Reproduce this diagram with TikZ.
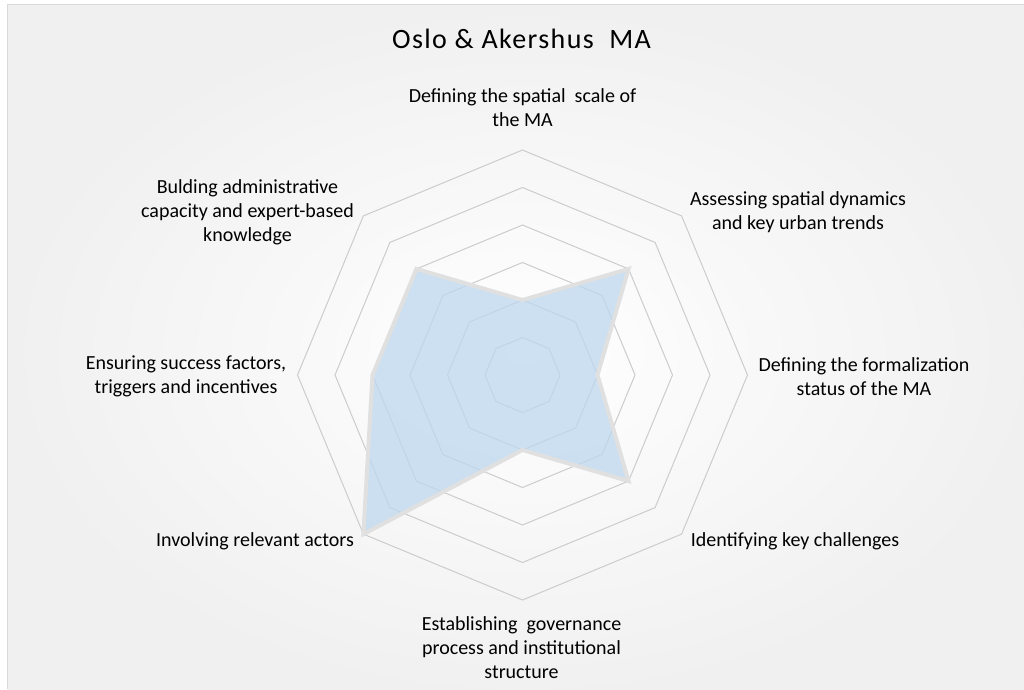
\documentclass[tikz,border=0pt]{standalone}
\usepackage{fontspec}
\setmainfont{Carlito}
\newfontfamily\titlefont[LetterSpace=5]{Carlito}
\definecolor{gridgray}{RGB}{204,204,204}
\definecolor{areablue}{RGB}{189,215,238}
\definecolor{bordergray}{RGB}{224,224,224}
\definecolor{framegray}{RGB}{217,217,217}
\definecolor{edgegray}{RGB}{240,240,240}

\begin{document}
\begin{tikzpicture}[x=0.75pt,y=-0.75pt]

        \useasboundingbox (0,0) rectangle (1024,689);
        \shade[inner color=white,outer color=edgegray] (7.5,4.5) rectangle (1040,700);
        \draw[framegray,line width=1.2pt] (7.5,689) -- (7.5,4.5) -- (1024,4.5);

        \begin{scope}[shift={(522.5,375)},y=0.75pt]
          \foreach \lvl in {1,...,6}
            \draw[gridgray,line width=0.75pt] (0:37.5*\lvl)
              \foreach \a in {45,90,...,315}{ -- (\a:37.5*\lvl)} -- cycle;

          \foreach \ang/\val [count=\i] in {90/2,45/4,0/2,-45/4,-90/2,-135/6,180/4,135/4}
            \coordinate (p\i) at (\ang:37.5*\val);

          \draw[bordergray,line width=3pt,fill=areablue,fill opacity=0.75]
            (p1) -- (p2) -- (p3) -- (p4) -- (p5) -- (p6) -- (p7) -- (p8) -- cycle;
        \end{scope}

        \begin{scope}[every node/.style={align=center,inner sep=0pt,font=\fontsize{15}{18}\selectfont}]
          \node (scale)      at (522.5,108) {Defining the spatial\ \ scale of\\the MA};
          \node (dynamics)   at (798,212)   {Assessing spatial dynamics\\and key urban trends};
          \node (status)     at (864,377)   {Defining the formalization\\status of the MA};
          \node (challenges) at (795,541)   {Identifying key challenges};
          \node (governance) at (521.5,648) {Establishing\ \ governance\\process and institutional\\structure};
          \node (actors)     at (255,541)   {Involving relevant actors};
          \node (factors)    at (186,376)   {Ensuring success factors,\\triggers and incentives};
          \node (capacity)   at (247.5,212) {Bulding administrative\\capacity and expert-based\\knowledge};
        \end{scope}

        \node[inner sep=0pt,font=\titlefont\fontsize{21}{25}\selectfont] (title) at (521.5,39) {Oslo \& Akershus\ \ MA};

\end{tikzpicture}
\end{document}
